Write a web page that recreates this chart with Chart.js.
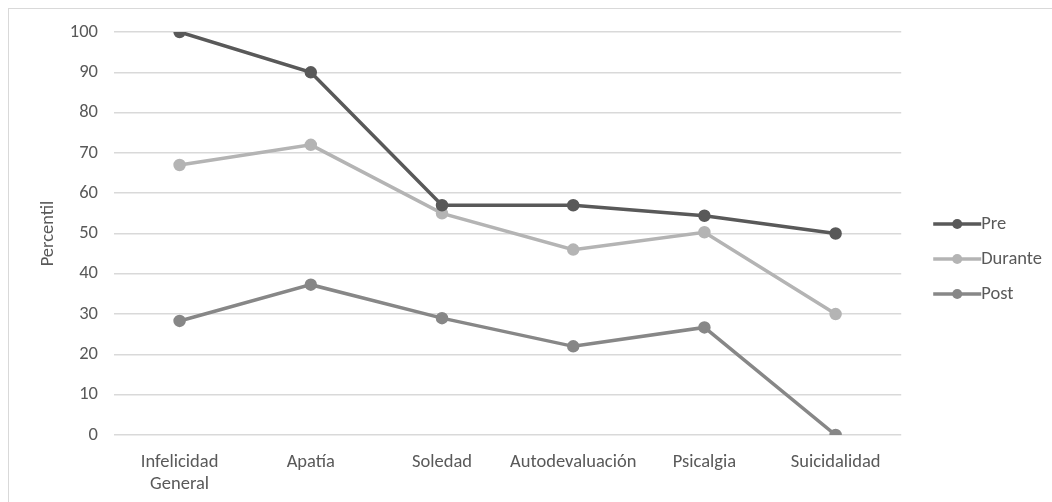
<!DOCTYPE html>
<html>
<head>
<meta charset="utf-8">
<script src="https://cdn.jsdelivr.net/npm/chart.js@4/dist/chart.umd.min.js"></script>
<style>
  html, body { margin: 0; padding: 0; background: #fff; }
  #wrap { position: relative; width: 1052px; height: 502px; overflow: hidden; }
  #frame { position: absolute; left: 8px; top: 8px; width: 1100px; height: 560px; border: 1px solid #d9d9d9; box-sizing: border-box; }
  canvas { position: absolute; left: 0; top: 0; }
</style>
</head>
<body>
<div id="wrap">
  <div id="frame"></div>
  <canvas id="c" width="1052" height="502"></canvas>
</div>
<script>
// Escalas de depresión por momento de evaluación
const categories = [["Infelicidad", "General"], "Apatía", "Soledad", "Autodevaluación", "Psicalgia", "Suicidalidad"];
const pre     = [100, 90, 57, 57, 54.4, 50];
const durante = [67, 72, 55, 46, 50.3, 30];
const post    = [28.3, 37.3, 29, 22, 26.7, 0];
const yTicks  = [0, 10, 20, 30, 40, 50, 60, 70, 80, 90, 100];

const FONT = "'Carlito', 'Liberation Sans Narrow', 'Liberation Sans', sans-serif";
const FONT_SIZE = 18.5;
const TEXT = '#595959';

const LEG_PAD = 16.5;     // vertical gap between legend rows
const LEG_GAP = 32;       // gap between plot area and legend markers
const LEG_RAISE = 3;      // nudges the legend block upwards
const MARKER_W = 48;      // legend line marker length

function series(label, data, color) {
  return {
    label, data,
    borderColor: color, backgroundColor: color,
    pointBackgroundColor: color, pointBorderColor: color,
    borderWidth: 3.5, pointRadius: 4.5, pointHoverRadius: 4.5,
    tension: 0
  };
}

// widens the legend box so the plot ends further from the markers,
// then slides the box back so the extra room sits on its left side
const legendGap = {
  id: 'legendGap',
  beforeLayout(chart) {
    const lg = chart.legend;
    if (lg && !lg._gapPatched) {
      const fit = lg.fit.bind(lg);
      lg.fit = function () { fit(); this.width += LEG_GAP - LEG_PAD; };
      lg._gapPatched = true;
    }
  },
  afterLayout(chart) {
    const lg = chart.legend;
    if (lg) {
      lg.left += LEG_GAP - LEG_PAD; lg.right += LEG_GAP - LEG_PAD;
      lg.top -= LEG_RAISE; lg.bottom -= LEG_RAISE;
    }
  }
};

// line-with-dot legend markers
const legendMarkers = {
  id: 'legendMarkers',
  afterDraw(chart) {
    const lg = chart.legend;
    if (!lg || !lg.legendHitBoxes) return;
    const ctx = chart.ctx;
    lg.legendHitBoxes.forEach((box, i) => {
      const ds = chart.data.datasets[i];
      const y = box.top + box.height / 2;
      ctx.save();
      ctx.strokeStyle = ds.borderColor;
      ctx.fillStyle = ds.borderColor;
      ctx.lineWidth = 3.5;
      ctx.beginPath();
      ctx.moveTo(box.left, y);
      ctx.lineTo(box.left + MARKER_W, y);
      ctx.stroke();
      ctx.beginPath();
      ctx.arc(box.left + MARKER_W / 2, y, 5, 0, Math.PI * 2);
      ctx.fill();
      ctx.restore();
    });
  }
};

new Chart(document.getElementById('c'), {
  type: 'line',
  data: {
    labels: categories,
    datasets: [
      series('Pre', pre, '#595959'),
      series('Durante', durante, '#b4b4b4'),
      series('Post', post, '#878787')
    ]
  },
  options: {
    responsive: false,
    animation: false,
    layout: { padding: { left: 8, top: 32, right: 0, bottom: 10 } },
    plugins: {
      tooltip: { enabled: false },
      legend: {
        position: 'right',
        align: 'center',
        labels: {
          boxWidth: MARKER_W - FONT_SIZE / 2, boxHeight: 3, padding: LEG_PAD,
          color: TEXT, font: { family: FONT, size: FONT_SIZE },
          generateLabels(chart) {
            return chart.data.datasets.map((ds, i) => ({
              text: ds.label, fillStyle: 'rgba(0,0,0,0)', strokeStyle: 'rgba(0,0,0,0)',
              lineWidth: 0, hidden: false, datasetIndex: i, fontColor: TEXT
            }));
          }
        }
      }
    },
    scales: {
      x: {
        offset: true,
        grid: { display: false, drawTicks: false },
        border: { display: false },
        ticks: { color: TEXT, font: { family: FONT, size: FONT_SIZE }, padding: 16, maxRotation: 0, autoSkip: false },
        afterFit(s) { s.height = 57; }
      },
      y: {
        min: 0, max: 100,
        afterBuildTicks(s) { s.ticks = yTicks.map(v => ({ value: v })); },
        grid: { color: '#d9d9d9', lineWidth: 1.5, drawTicks: false },
        border: { display: false },
        ticks: { color: TEXT, font: { family: FONT, size: FONT_SIZE }, padding: 16 },
        title: { display: true, text: 'Percentil', color: TEXT, font: { family: FONT, size: FONT_SIZE }, padding: { top: 29, bottom: 0 } },
        afterFit(s) { s.width = 106; }
      }
    }
  },
  plugins: [legendGap, legendMarkers]
});
</script>
</body>
</html>
